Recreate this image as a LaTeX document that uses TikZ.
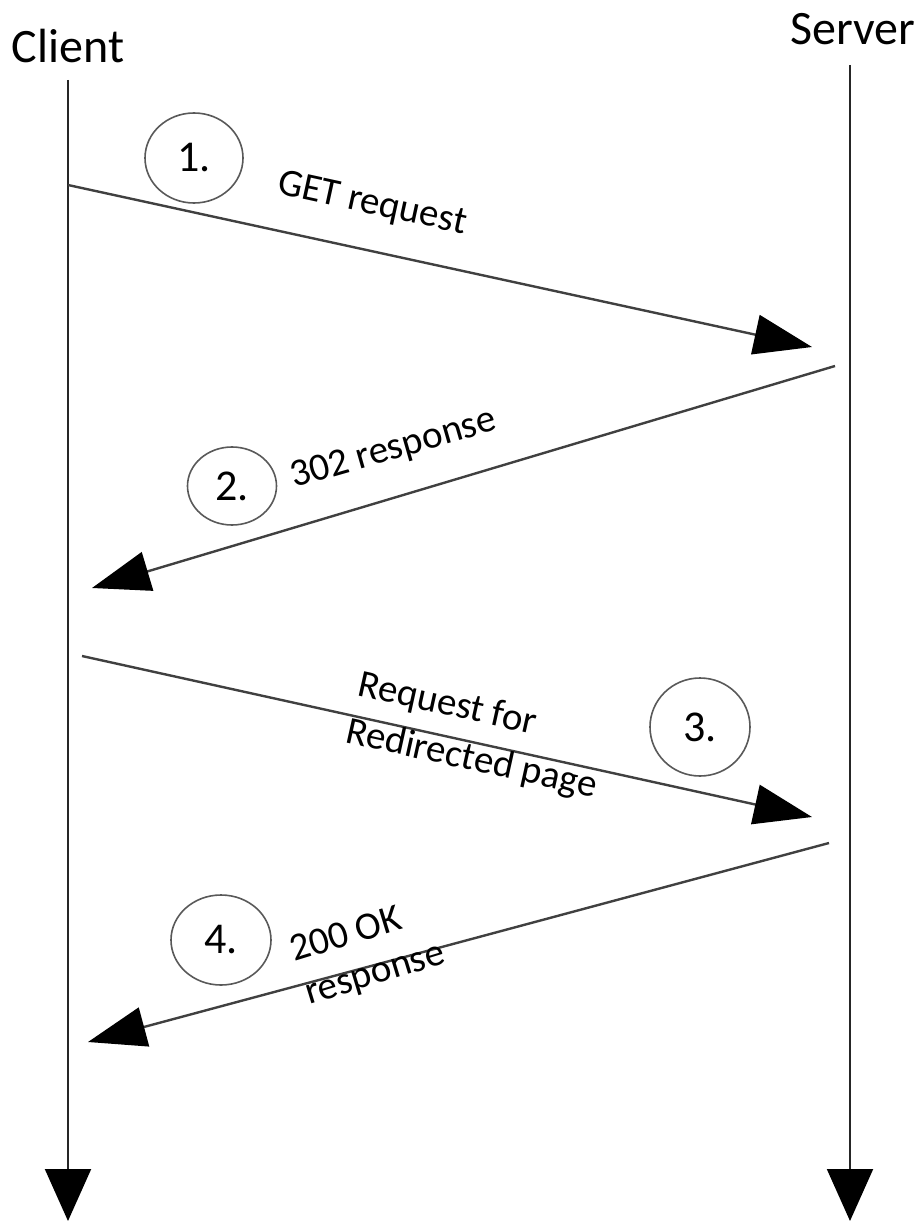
\documentclass[tikz,border=0pt]{standalone}
\usepackage{fontspec}
\setmainfont{Carlito}
\usetikzlibrary{arrows.meta,shapes.geometric}
\begin{document}
\begin{tikzpicture}[x=1pt,y=-1pt,
  lifeline/.style={line width=2pt, draw=black!85, -{Triangle[length=52pt,width=46pt,color=black]}},
  msg/.style={line width=2.4pt, draw=black!75, -{Triangle[length=58pt,width=40pt,color=black]}},
  stepnum/.style={ellipse, draw=black!65, line width=1.6pt, inner sep=0pt, font=\fontsize{44}{48}\selectfont},
  lbl/.style={font=\fontsize{39}{46}\selectfont, inner sep=0pt, anchor=base west},
  party/.style={font=\fontsize{48}{56}\selectfont, anchor=base, inner sep=0pt}]
\useasboundingbox (0,0) rectangle (923,1222);
% parties
\node[party] (client) at (68,63) {Client};
\node[party] (server) at (853,45) {Server};
\coordinate (clientTop) at (68,80);
\coordinate (clientEnd) at (68,1221);
\coordinate (serverTop) at (850,65);
\coordinate (serverEnd) at (850,1221);
\draw[lifeline] (clientTop) -- (clientEnd);
\draw[lifeline] (serverTop) -- (serverEnd);
% message end points
\coordinate (m1s) at (68,185);
\coordinate (m1e) at (812,347);
\coordinate (m2s) at (835,366);
\coordinate (m2e) at (92,588);
\coordinate (m3s) at (82,656);
\coordinate (m3e) at (812,817);
\coordinate (m4s) at (829,843);
\coordinate (m4e) at (88,1042);
\draw[msg] (m1s) -- (m1e);
\draw[msg] (m2s) -- (m2e);
\draw[msg] (m3s) -- (m3e);
\draw[msg] (m4s) -- (m4e);
% step numbers
\node[stepnum, minimum width=98pt, minimum height=90pt] (n1) at (194,158) {1.};
\node[stepnum, minimum width=89pt, minimum height=78pt] (n2) at (232,486) {2.};
\node[stepnum, minimum width=100pt, minimum height=98pt] (n3) at (700,727) {3.};
\node[stepnum, minimum width=100pt, minimum height=90pt] (n4) at (221,940) {4.};
% labels
\node[lbl, rotate=-12.3] (l1) at (276,193) {GET request};
\node[lbl, rotate=16] (l2) at (294,488) {302 response};
\node[lbl, rotate=-12.5] (l3a) at (356,695) {Request for};
\node[lbl, rotate=-12.5] (l3b) at (344,742) {Redirected page};
\node[lbl, rotate=17] (l4a) at (294,962) {200 OK};
\node[lbl, rotate=17] (l4b) at (309,1005) {response};
\end{tikzpicture}
\end{document}
